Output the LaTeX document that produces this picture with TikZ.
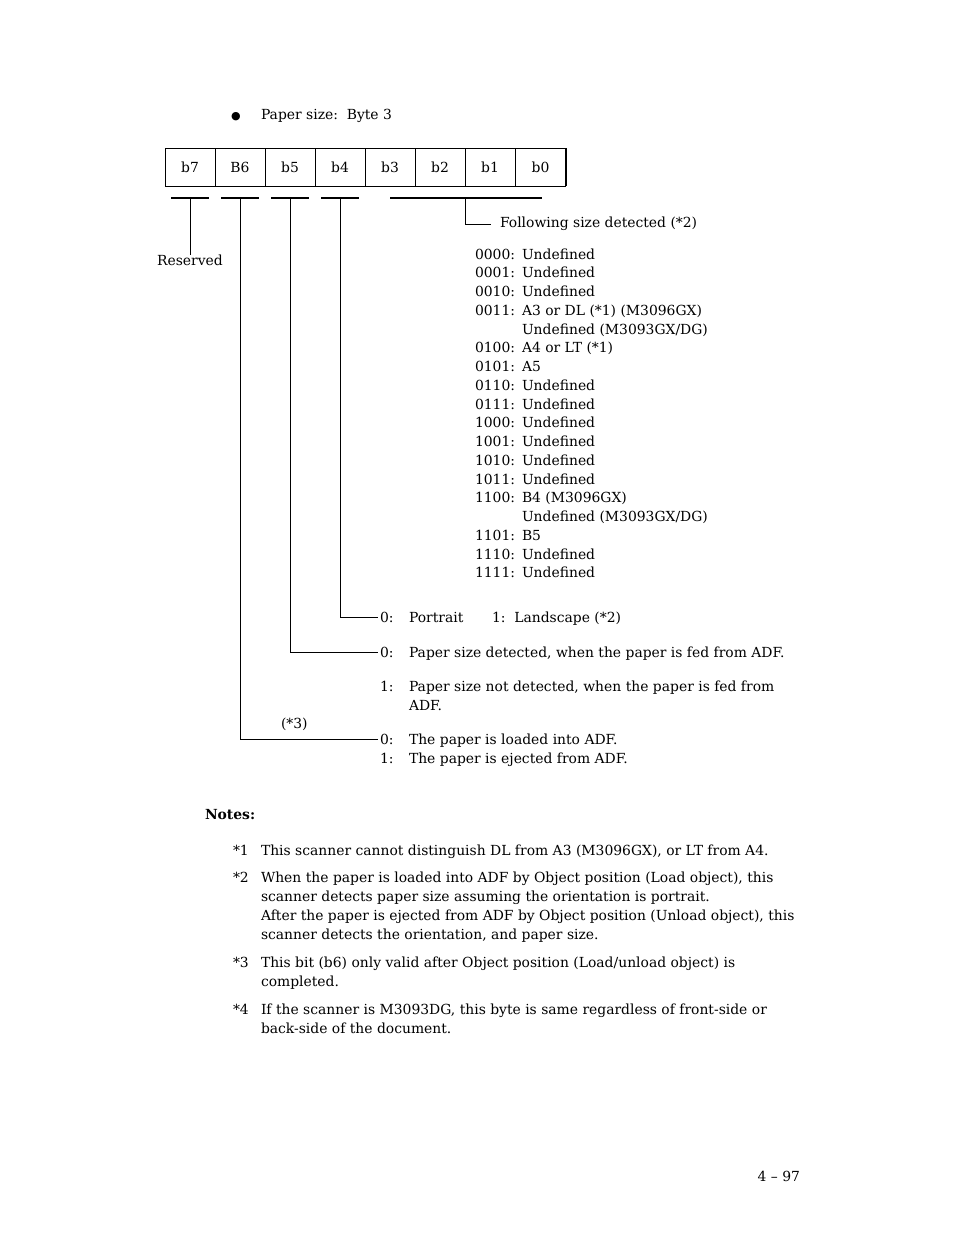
\documentclass[tikz,border=0pt]{standalone}
\usepackage{fontspec}
\setmainfont{DejaVu Serif}
\begin{document}
\begin{tikzpicture}[x=1bp,y=-1bp,
  every node/.style={inner sep=0pt,outer sep=0pt,font=\fontsize{13.95}{16}\selectfont},
  txt/.style={anchor=base west},
  cell/.style={draw,line width=0.9bp,minimum width=50bp,minimum height=38bp},
  ul/.style={line width=2bp},
  conn/.style={line width=0.9bp}]
\useasboundingbox (0,0) rectangle (954,1235);
% heading
\node[txt] (bul) at (231,119) {\fontspec{DejaVu Sans}\fontsize{11}{13}\selectfont ●};
\node[txt] (head) at (261,119) {Paper size:\ \ Byte 3};
% register
\node[cell] (c7) at (190,167) {b7};
\node[cell] (c6) at (240,167) {B6};
\node[cell] (c5) at (290,167) {b5};
\node[cell] (c4) at (340,167) {b4};
\node[cell] (c3) at (390,167) {b3};
\node[cell] (c2) at (440,167) {b2};
\node[cell] (c1) at (490,167) {b1};
\node[cell] (c0) at (540.5,167) {b0};
\draw[line width=2bp] (c0.north east) -- (c0.south east);
% underlines
\coordinate (u7) at (190,198); \coordinate (u6) at (240,198);
\coordinate (u5) at (290,198); \coordinate (u4) at (340,198);
\coordinate (u30) at (465,198);
\draw[ul] (171,198) -- (209,198);
\draw[ul] (221,198) -- (259,198);
\draw[ul] (271,198) -- (309,198);
\draw[ul] (321,198) -- (359,198);
\draw[ul] (390,198) -- (542,198);
% labels
\node (res) at (190,260) {Reserved};
\node[txt] (fol) at (500,227) {Following size detected (*2)};
\foreach \i/\c/\v in {0/0000:/Undefined,1/0001:/Undefined,2/0010:/Undefined,
  3/0011:/{A3 or DL (*1) (M3096GX)},4//{Undefined (M3093GX/DG)},5/0100:/{A4 or LT (*1)},
  6/0101:/A5,7/0110:/Undefined,8/0111:/Undefined,9/1000:/Undefined,10/1001:/Undefined,
  11/1010:/Undefined,12/1011:/Undefined,13/1100:/{B4 (M3096GX)},14//{Undefined (M3093GX/DG)},
  15/1101:/B5,16/1110:/Undefined,17/1111:/Undefined}{
  \node[txt] (k\i) at (475,259+18.76*\i) {\c};
  \node[txt] (v\i) at (522,259+18.76*\i) {\v};
}
\node[txt] (p0) at (380,622) {0:};
\node[txt] (p0t) at (409,622) {Portrait};
\node[txt] (p1) at (492,622) {1:\ \ Landscape (*2)};
\node[txt] (s0) at (380,657) {0:};
\node[txt] (s0t) at (409,657) {Paper size detected, when the paper is fed from ADF.};
\node[txt] (s1) at (380,691) {1:};
\node[txt] (s1t) at (409,691) {Paper size not detected, when the paper is fed from};
\node[txt] (s1u) at (409,710) {ADF.};
\node[txt] (n3) at (281,728) {(*3)};
\node[txt] (l0) at (380,744) {0:};
\node[txt] (l0t) at (409,744) {The paper is loaded into ADF.};
\node[txt] (l1) at (380,763) {1:};
\node[txt] (l1t) at (409,763) {The paper is ejected from ADF.};
% connectors
\draw[conn] (u7) -- (res.north);
\draw[conn] (u6) |- ([xshift=-2bp]l0.west);
\draw[conn] (u5) |- ([xshift=-2bp]s0.west);
\draw[conn] (u4) |- ([xshift=-2bp]p0.west);
\draw[conn] (u30) |- ([xshift=-9bp,yshift=-1bp]fol.west);
% notes
\node[txt] (notes) at (205,819) {\bfseries Notes:};
\node[txt] (a1) at (233,855) {*1};
\node[txt] (t1) at (261,855) {This scanner cannot distinguish DL from A3 (M3096GX), or LT from A4.};
\node[txt] (a2) at (233,882) {*2};
\node[txt] (t2a) at (261,882) {When the paper is loaded into ADF by Object position (Load object), this};
\node[txt] (t2b) at (261,901) {scanner detects paper size assuming the orientation is portrait.};
\node[txt] (t2c) at (261,920) {After the paper is ejected from ADF by Object position (Unload object), this};
\node[txt] (t2d) at (261,939) {scanner detects the orientation, and paper size.};
\node[txt] (a3) at (233,967) {*3};
\node[txt] (t3a) at (261,967) {This bit (b6) only valid after Object position (Load/unload object) is};
\node[txt] (t3b) at (261,986) {completed.};
\node[txt] (a4) at (233,1014) {*4};
\node[txt] (t4a) at (261,1014) {If the scanner is M3093DG, this byte is same regardless of front-side or};
\node[txt] (t4b) at (261,1033) {back-side of the document.};
\node[anchor=base east] (pg) at (800,1181) {4 -- 97};
\end{tikzpicture}
\end{document}
